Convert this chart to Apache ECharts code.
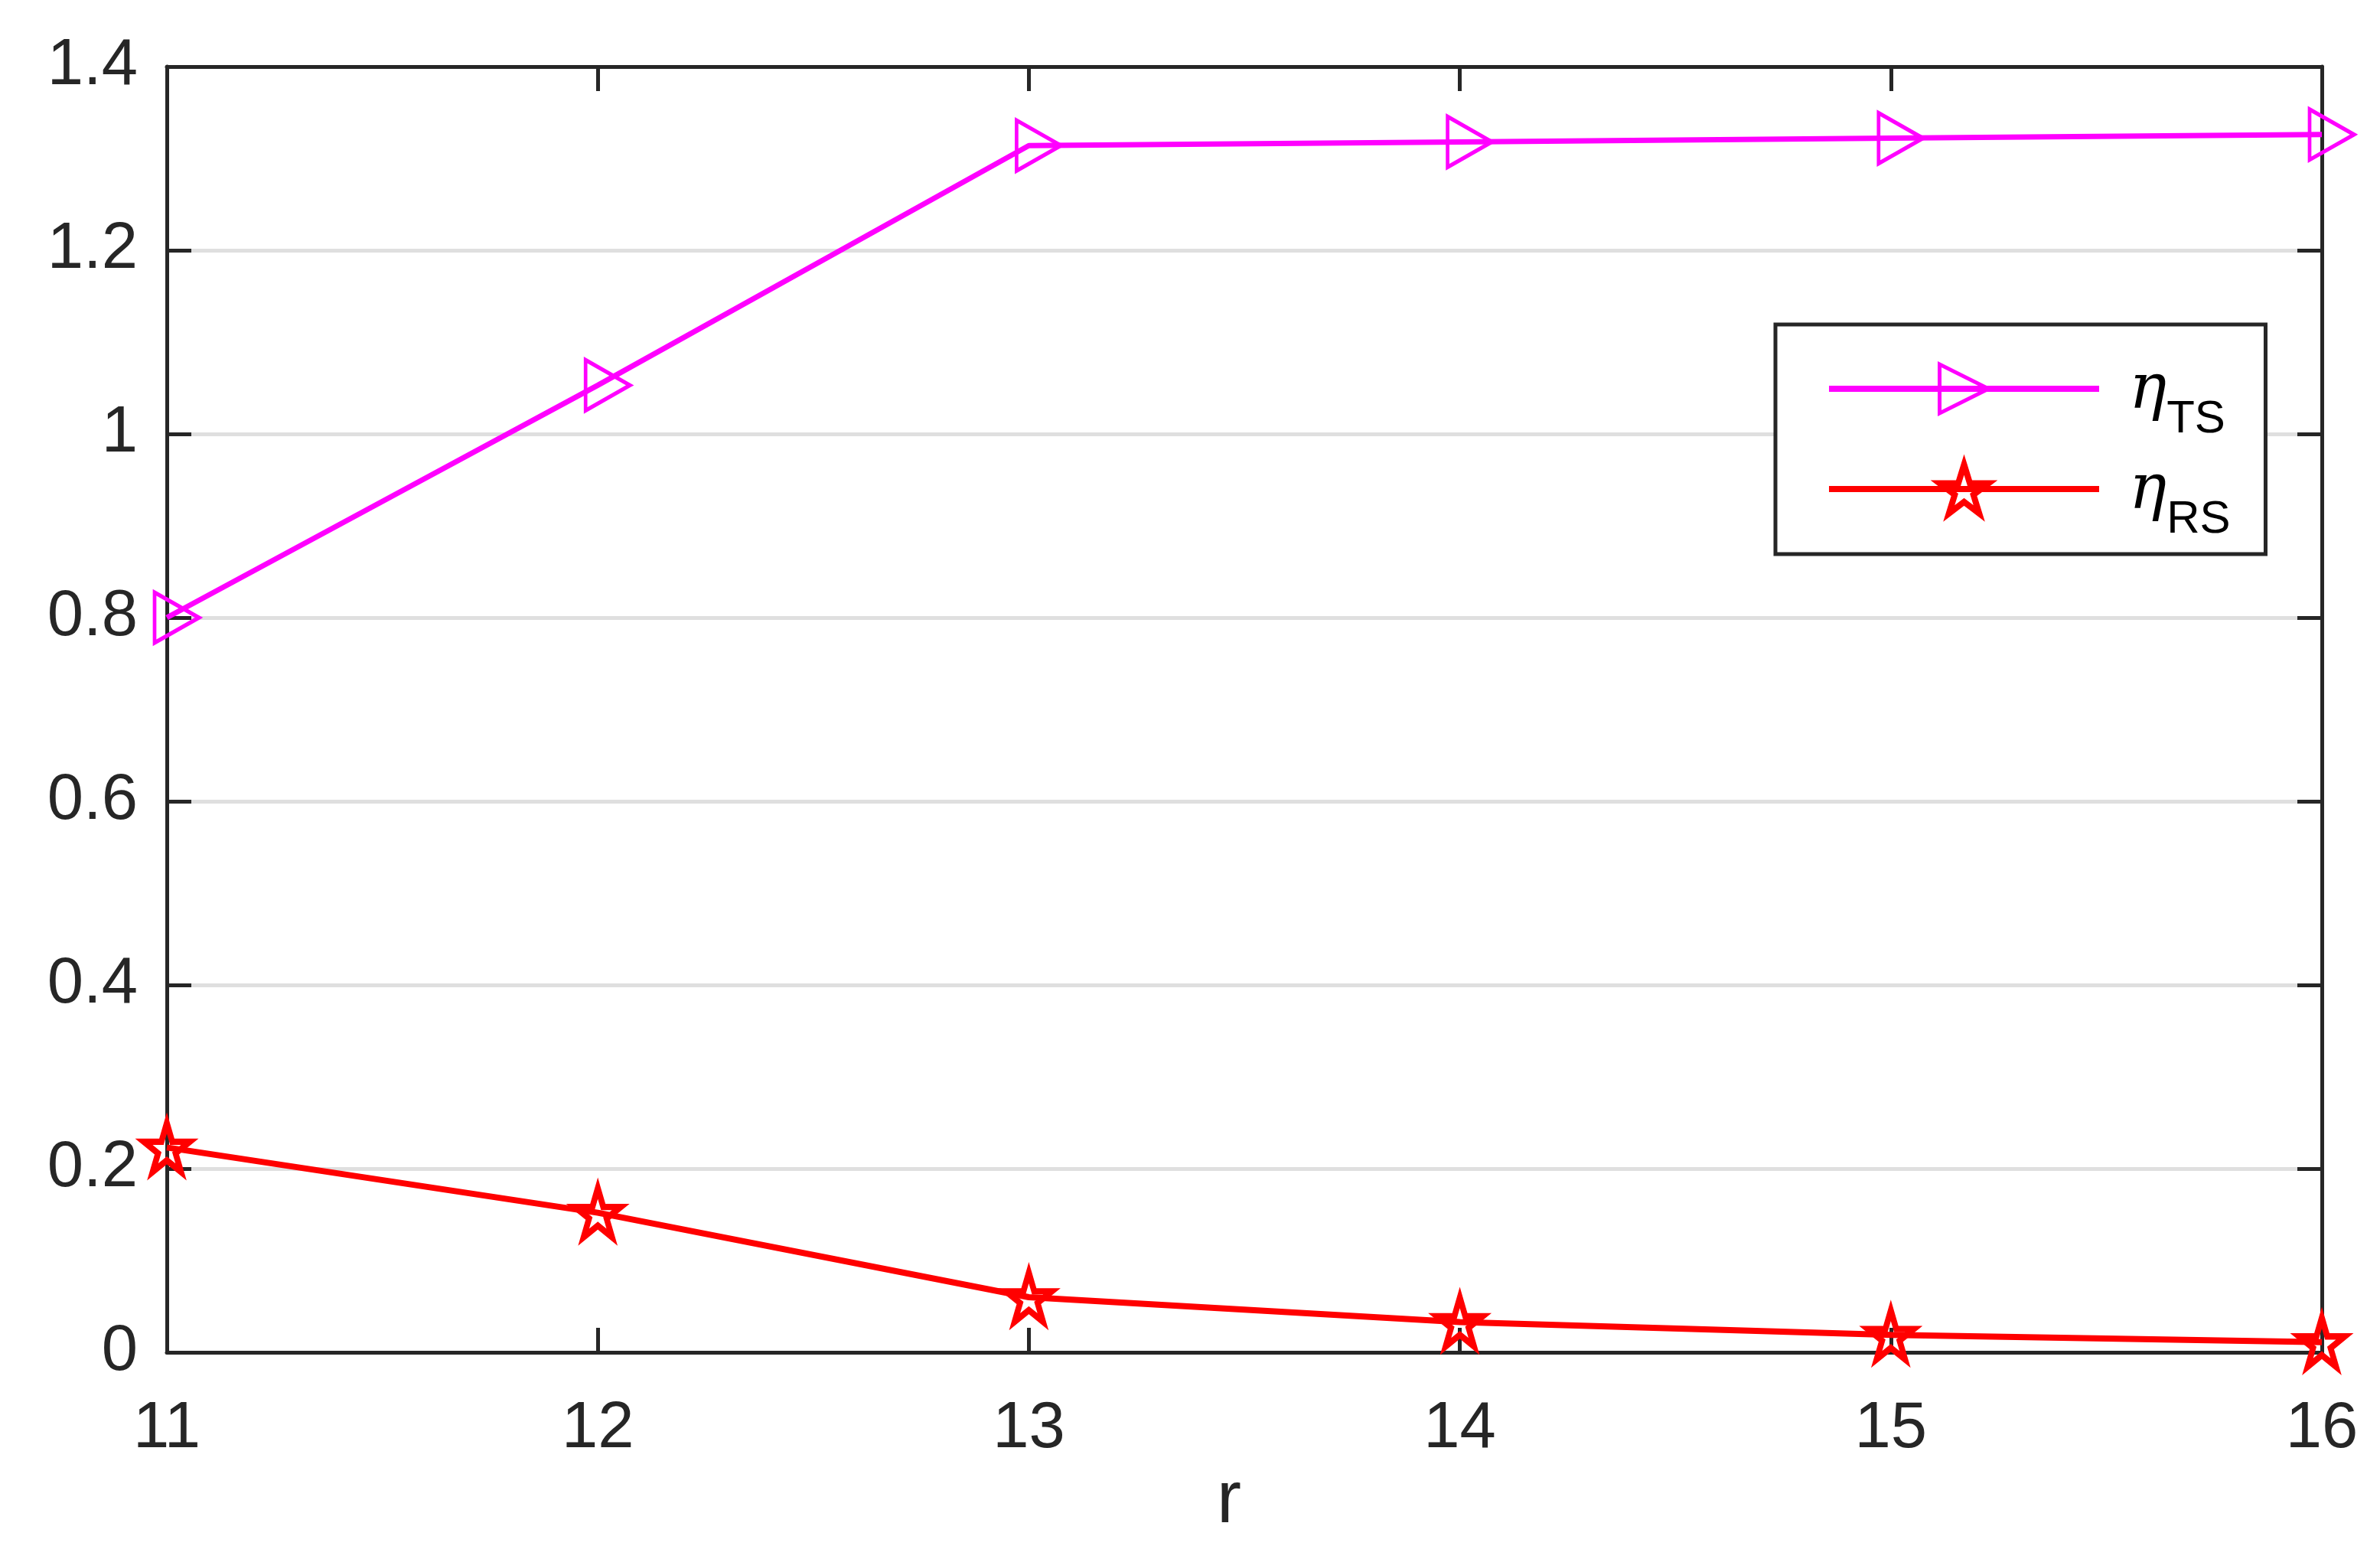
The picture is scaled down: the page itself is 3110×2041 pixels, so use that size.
<!DOCTYPE html>
<html>
<head>
<meta charset="utf-8">
<script src="https://cdn.jsdelivr.net/npm/echarts@6/dist/echarts.min.js"></script>
<style>
html,body{margin:0;padding:0;background:#fff;}
#chart{width:3110px;height:2041px;}
</style>
</head>
<body>
<div id="chart"></div>
<script>
// ---- data ----
var rValues = [11, 12, 13, 14, 15, 16];
var etaTS = [0.800, 1.053, 1.314, 1.318, 1.322, 1.326];
var etaRS = [0.223, 0.152, 0.060, 0.033, 0.019, 0.011];
var seriesSubs = ['TS', 'RS'];
var yTicks = [0, 0.2, 0.4, 0.6, 0.8, 1.0, 1.2, 1.4];
var xLabel = 'r';

function pairs(xs, ys) { return xs.map(function (x, i) { return [x, ys[i]]; }); }

var axisColor = '#262626';
var font = 'Liberation Sans';
var starPath = 'path://M0,-1 L0.2245,-0.309 L0.951,-0.309 L0.363,0.118 L0.588,0.809 L0,0.382 L-0.588,0.809 L-0.363,0.118 L-0.951,-0.309 L-0.2245,-0.309 Z';

function frameAxis(pos) {
  return {
    type: 'value', position: pos,
    axisLine: { show: true, onZero: false, lineStyle: { color: axisColor, width: 5 } },
    axisTick: { show: true, inside: true, length: 32, lineStyle: { color: axisColor, width: 5 } },
    axisLabel: { show: false }, splitLine: { show: false }
  };
}

var chart = echarts.init(document.getElementById('chart'));
var xTop = frameAxis('top'); xTop.min = rValues[0]; xTop.max = rValues[rValues.length - 1]; xTop.interval = 1;
var yRight = frameAxis('right'); yRight.min = yTicks[0]; yRight.max = yTicks[yTicks.length - 1]; yRight.interval = 0.2;

var legendNames = seriesSubs.map(function (s) { return 'η' + s; });

var option = {
  animation: false,
  backgroundColor: '#ffffff',
  grid: { left: 218, right: 76, top: 87, bottom: 274, containLabel: false },
  xAxis: [{
    type: 'value', min: rValues[0], max: rValues[rValues.length - 1], interval: 1, position: 'bottom',
    name: xLabel, nameLocation: 'middle', nameGap: 92,
    nameTextStyle: { fontFamily: font, fontSize: 96, color: axisColor, padding: [0, 40, 0, 0] },
    axisLine: { show: true, onZero: false, lineStyle: { color: axisColor, width: 5 } },
    axisTick: { show: true, inside: true, length: 32, lineStyle: { color: axisColor, width: 5 } },
    axisLabel: { show: true, margin: 58, fontFamily: font, fontSize: 85, color: axisColor },
    splitLine: { show: false }
  }, xTop],
  yAxis: [{
    type: 'value', min: yTicks[0], max: yTicks[yTicks.length - 1], interval: 0.2, position: 'left',
    axisLine: { show: true, onZero: false, lineStyle: { color: axisColor, width: 5 } },
    axisTick: { show: true, inside: true, length: 32, lineStyle: { color: axisColor, width: 5 } },
    axisLabel: { show: true, margin: 38, fontFamily: font, fontSize: 85, color: axisColor },
    splitLine: { show: true, lineStyle: { color: '#dfdfdf', width: 5 } }
  }, yRight],
  legend: {
    orient: 'vertical', left: 2320, top: 424,
    data: [
      { name: legendNames[0], itemStyle: { borderWidth: 5 } },
      { name: legendNames[1], itemStyle: { borderWidth: 8 } }
    ],
    backgroundColor: '#ffffff',
    borderColor: axisColor, borderWidth: 5, borderRadius: 0,
    padding: [14, 46, 15, 66],
    itemWidth: 353, itemHeight: 80, itemGap: -9,
    lineStyle: { width: 8 },
    formatter: function (name) { return '{e|η}{s|' + name.slice(1) + '}'; },
    textStyle: {
      padding: [0, 0, 0, 34],
      rich: {
        e: { fontFamily: 'DejaVu Serif', fontStyle: 'italic', fontSize: 82, color: '#000', lineHeight: 64, padding: [8, 0, 0, 0] },
        s: { fontFamily: font, fontSize: 60, color: '#000', lineHeight: 60, padding: [80, 0, 0, 0] }
      }
    }
  },
  series: [{
    name: legendNames[0], type: 'line', xAxisIndex: 0, yAxisIndex: 0,
    data: pairs(rValues, etaTS), clip: false,
    symbol: 'triangle', symbolSize: [66, 58], symbolRotate: -90, symbolOffset: [13, 0],
    lineStyle: { color: '#ff00ff', width: 7 },
    itemStyle: { color: 'rgba(255,255,255,0)', borderColor: '#ff00ff', borderWidth: 5 },
    emphasis: { disabled: true }
  }, {
    name: legendNames[1], type: 'line', xAxisIndex: 0, yAxisIndex: 0,
    data: pairs(rValues, etaRS), clip: false,
    symbol: starPath, symbolSize: [60, 64],
    lineStyle: { color: '#ff0000', width: 8 },
    itemStyle: { color: 'rgba(255,255,255,0)', borderColor: '#ff0000', borderWidth: 8 },
    emphasis: { disabled: true }
  }]
};
chart.setOption(option);
</script>
</body>
</html>
